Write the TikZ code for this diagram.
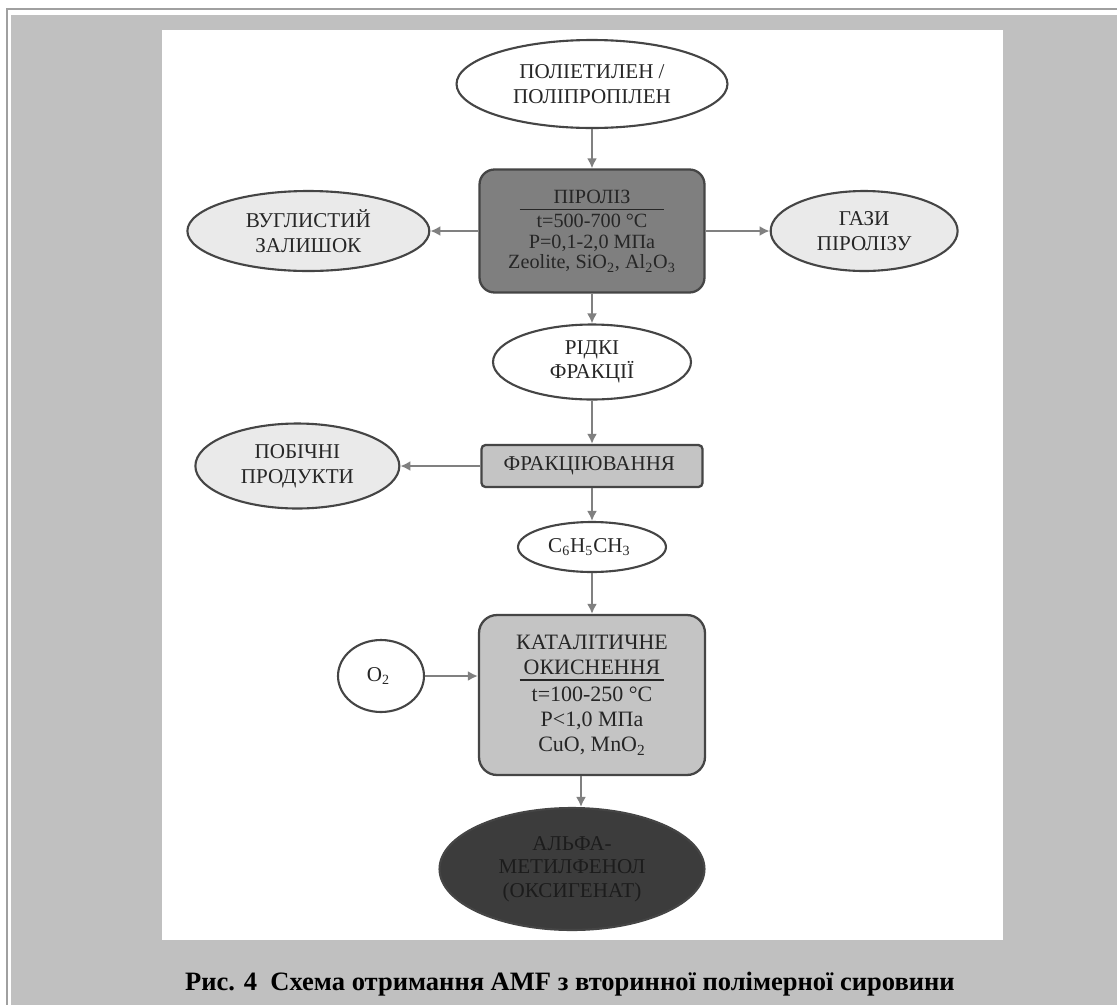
\documentclass[tikz,border=0pt]{standalone}
\usepackage{fontspec}
\setmainfont{Liberation Serif}
\usetikzlibrary{arrows.meta,positioning,shapes.geometric}
\definecolor{pagegray}{HTML}{C0C0C0}
\definecolor{framegray}{HTML}{A0A0A0}
\definecolor{linegray}{HTML}{808080}
\definecolor{edgegray}{HTML}{454545}
\definecolor{textgray}{HTML}{262626}
\definecolor{sidefill}{HTML}{EAEAEA}
\definecolor{pyrofill}{HTML}{7F7F7F}
\definecolor{stepfill}{HTML}{C4C4C4}
\definecolor{endfill}{HTML}{3C3C3C}
\definecolor{endtext}{HTML}{1C1C1C}

\begin{document}
\begin{tikzpicture}[
  x=0.02cm,y=-0.02cm,
  oval/.style={
    ellipse,draw=edgegray,line width=1.2pt,fill=white,
    inner sep=0pt,align=center,text=textgray,
    font=\fontsize{12}{14}\selectfont
  },
  sideoval/.style={oval,fill=sidefill,minimum height=1.6cm},
  box/.style={
    draw=edgegray,line width=1.3pt,rounded corners=0.3cm,
    inner sep=0pt,align=center,text=textgray
  },
  arrow/.style={-{Latex[length=2mm,width=2mm]},draw=linegray,line width=1.4pt}
]
\useasboundingbox (0,0) rectangle (1117,1005);
\fill[white] (0,0) rectangle (1117,1005);
\fill[pagegray] (11,15) rectangle (1117,1005);
\fill[white] (162,30) rectangle (1003,940);
\draw[framegray,line width=1.2pt] (7,1005) -- (7,9) -- (1117,9);

\node[oval,minimum width=5.42cm,minimum height=1.76cm] (feed) at (592,84) {
  ПОЛІЕТИЛЕН /\\ПОЛІПРОПІЛЕН
};
\node[box,fill=pyrofill,minimum width=4.5cm,minimum height=2.46cm,
  font=\fontsize{11.5}{11.8}\selectfont] (pyro) at (592,231) {
  ПІРОЛІЗ\\[-7.8pt]\rule{2.9cm}{0.9pt}\\[-2pt]
  t=500-700 °C\\
  P=0,1-2,0 МПа\\
  Zeolite, SiO\textsubscript{2}, Al\textsubscript{2}O\textsubscript{3}
};
\node[sideoval,minimum width=4.84cm,left=0.96cm of pyro] (residue) {
  ВУГЛИСТИЙ\\ЗАЛИШОК
};
\node[sideoval,minimum width=3.74cm,right=1.28cm of pyro] (gases) {
  ГАЗИ\\ПІРОЛІЗУ
};
\node[oval,minimum width=3.96cm,minimum height=1.5cm] (liquid) at (592,362) {
  РІДКІ\\ФРАКЦІЇ
};
\node[box,fill=stepfill,rounded corners=0.08cm,minimum width=4.42cm,
  minimum height=0.84cm,font=\fontsize{12}{14}\selectfont] (fraction) at (592,466) {
  ФРАКЦІЮВАННЯ
};
\node[sideoval,minimum width=4.08cm,minimum height=1.7cm,left=1.6cm of fraction] (byprod) {
  ПОБІЧНІ\\ПРОДУКТИ
};
\node[oval,minimum width=2.96cm,minimum height=1cm] (toluene) at (592,547) {
  C\textsubscript{6}H\textsubscript{5}CH\textsubscript{3}
};
\node[box,fill=stepfill,rounded corners=0.36cm,minimum width=4.52cm,
  minimum height=3.2cm,font=\fontsize{12.5}{14.5}\selectfont] (oxid) at (592,695) {
  КАТАЛІТИЧНЕ\\ОКИСНЕННЯ\\[-11pt]\rule{2.9cm}{0.9pt}\\[-3pt]
  t=100-250 °C\\
  P<1,0 МПа\\
  CuO, MnO\textsubscript{2}
};
\node[oval,minimum width=1.72cm,minimum height=1.44cm] (oxygen) at (381,676) {
  O\textsubscript{2}
};
\node[oval,fill=endfill,text=endtext,minimum width=5.3cm,minimum height=2.44cm,
  font=\fontsize{12}{13.5}\selectfont] (product) at (572,869) {
  АЛЬФА-\\МЕТИЛФЕНОЛ\\(ОКСИГЕНАТ)
};

\node[font=\fontsize{15.1}{17}\selectfont\bfseries,anchor=base] (caption) at (570,990) {
  Рис. 4\ \ Схема отримання AMF з вторинної полімерної сировини
};

\draw[arrow] (feed) -- (pyro);
\draw[arrow] (pyro) -- (residue);
\draw[arrow] (pyro) -- (gases);
\draw[arrow] (pyro) -- (liquid);
\draw[arrow] (liquid) -- (fraction);
\draw[arrow] (fraction) -- (byprod);
\draw[arrow] (fraction) -- (toluene);
\draw[arrow] (toluene) -- (oxid);
\draw[arrow] (oxygen) -- (oxygen -| oxid.west);
\draw[arrow] ([xshift=-0.22cm]oxid.south) -- ([xshift=-0.22cm]oxid.south |- product.north);

\end{tikzpicture}
\end{document}
